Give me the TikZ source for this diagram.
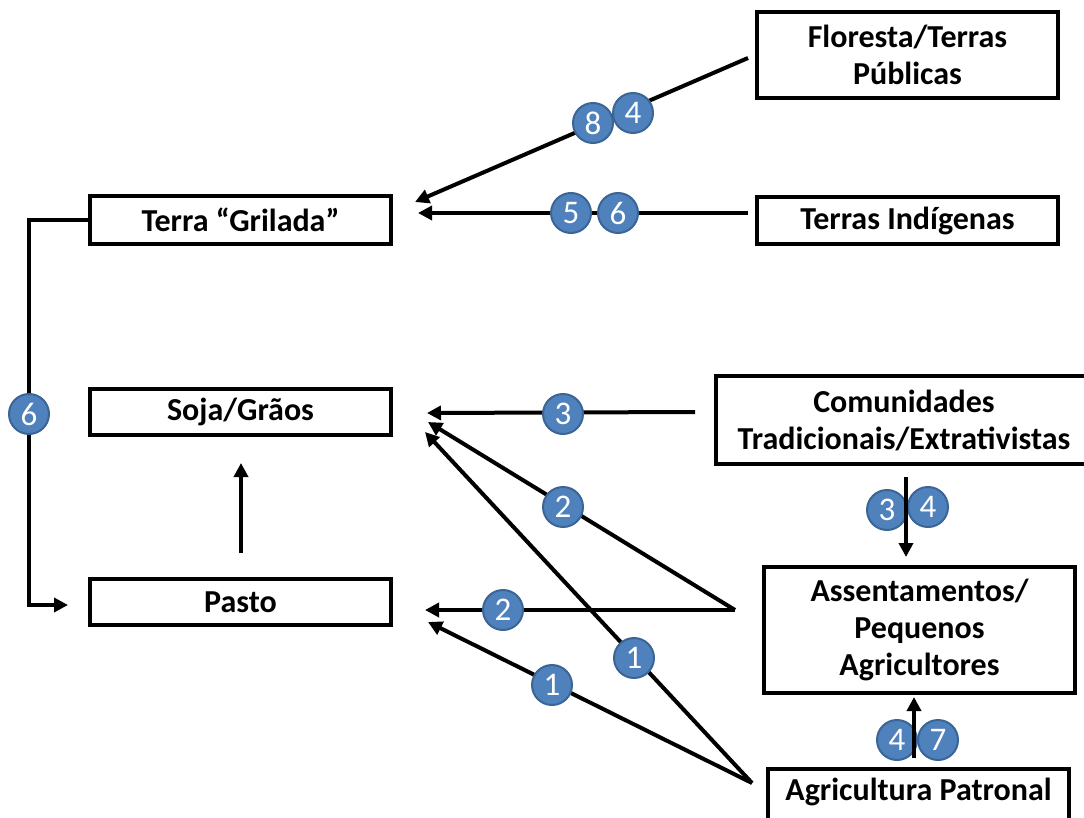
\documentclass[tikz,border=0pt]{standalone}
\usepackage{fontspec}
\setmainfont{Carlito}
\usetikzlibrary{arrows.meta}
\definecolor{cblue}{HTML}{4F81BD}
\definecolor{cedge}{HTML}{3A6594}
\begin{document}
\begin{tikzpicture}[x=1pt,y=-1pt,
  box/.style={draw, line width=4pt, font=\fontsize{32}{37}\selectfont\bfseries, align=center, inner sep=0pt},
  lbl/.style={font=\fontsize{32}{37}\selectfont\bfseries, align=center, inner sep=0pt},
  num/.style={circle, fill=cblue, draw=cedge, line width=2pt, minimum size=40pt, inner sep=0pt, text=white, font=\fontsize{33}{36}\selectfont},
  link/.style={line width=4pt},
  arr/.style={line width=4pt, -{Triangle[length=14pt,width=14pt]}}]
\useasboundingbox (0,0) rectangle (1084,818);
\clip (0,0) rectangle (1084,818);

% boxes
\node[box, minimum width=301pt, minimum height=86pt] (flor) at (907.5,55) {Floresta/Terras\\Públicas};
\node[box, minimum width=301pt, minimum height=47pt] (ind) at (907.5,220.5) {Terras Indígenas};
\node[box, minimum width=301pt, minimum height=48pt] (gril) at (240.5,220) {Terra “Grilada”};
\node[box, minimum width=301pt, minimum height=46pt] (soja) at (240.5,412) {Soja/Grãos};
\node[box, minimum width=301pt, minimum height=46pt] (pasto) at (240.5,602) {Pasto};
\node[box, minimum width=376pt, minimum height=88pt] (com) at (904,420) {Comunidades\\Tradicionais/Extrativistas};
\node[box, minimum width=311pt, minimum height=126pt] (ass) at (919.5,630) {Assentamentos/\\Pequenos\\Agricultores};
\node[box, minimum width=301pt, minimum height=80pt, anchor=north] (agr) at (918.5,767) {};
\node[lbl] (agrtext) at (918.5,792) {Agricultura Patronal};

% free connector ends
\coordinate (florS) at (748,58);   \coordinate (florE) at (415,202);
\coordinate (indS) at (748,213);   \coordinate (indE) at (418,213);
\coordinate (comS) at (695,412);   \coordinate (sojaE1) at (427,413);
\coordinate (assS) at (735,610);   \coordinate (sojaE2) at (428,422);
\coordinate (pastoE1) at (425,610);
\coordinate (agrS) at (752,783);   \coordinate (sojaE3) at (425,432);
\coordinate (pastoE2) at (428,622);
\coordinate (pastoN) at (241,553); \coordinate (sojaS) at (241,463);
\coordinate (leftmid) at (29,414); \coordinate (elbowEnd) at (68,605);
\coordinate (comB) at (906,477);   \coordinate (assT) at (906,557);
\coordinate (agrT) at (914,758);   \coordinate (assB) at (914,697);

% connectors under the numbers
\draw[arr] (florS) -- (florE);
\draw[arr] (indS) -- (indE);
\draw[arr] (comS) -- (sojaE1);
\draw[arr] (assS) -- (sojaE2);
\draw[arr] (assS) -- (pastoE1);
\draw[arr] (agrS) -- (sojaE3);
\draw[arr] (agrS) -- (pastoE2);
\draw[arr] (pastoN) -- (sojaS);
\draw[arr] (gril.west) -| (leftmid) |- (elbowEnd);

% numbers
\node[num] (n8) at (593,123) {8};
\node[num] (n4a) at (633,113) {4};
\node[num] (n5) at (571,213) {5};
\node[num] (n6a) at (618,213) {6};
\node[num] (n6b) at (29,414) {6};
\node[num] (n3a) at (563,414) {3};
\node[num] (n2a) at (563,507) {2};
\node[num] (n2b) at (503,610) {2};
\node[num] (n1a) at (634,658) {1};
\node[num] (n1b) at (552,685) {1};
\node[num] (n3b) at (887,510) {3};
\node[num] (n4b) at (928,507) {4};
\node[num] (n4c) at (897,740) {4};
\node[num] (n7) at (938,740) {7};

% vertical connectors drawn over their numbers
\draw[arr] (comB) -- (assT);
\draw[arr] (agrT) -- (assB);
\end{tikzpicture}
\end{document}
